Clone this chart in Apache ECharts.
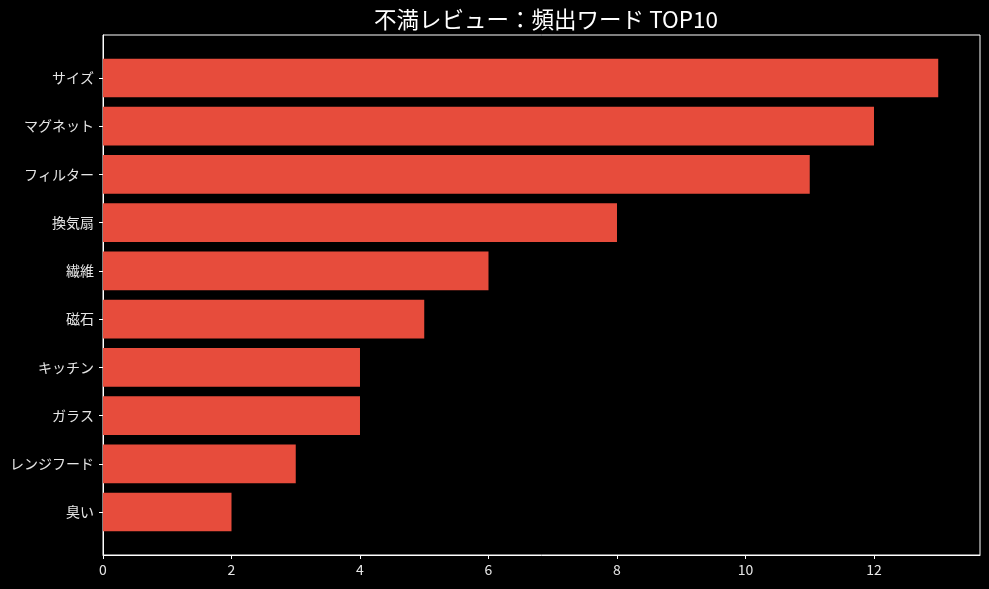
<!DOCTYPE html>
<html>
<head>
<meta charset="utf-8">
<script src="https://cdn.jsdelivr.net/npm/echarts@6/dist/echarts.min.js"></script>
<style>
  html, body { margin: 0; padding: 0; background: #000; }
  #chart { width: 989px; height: 589px; }
</style>
</head>
<body>
<div id="chart"></div>
<script>
var words = ['サイズ', 'マグネット', 'フィルター', '換気扇', '繊維', '磁石', 'キッチン', 'ガラス', 'レンジフード', '臭い'];
var counts = [13, 12, 11, 8, 6, 5, 4, 4, 3, 2];
var xTicks = [0, 2, 4, 6, 8, 10, 12];
var yTicks = [0, 1, 2, 3, 4, 5, 6, 7, 8, 9];

var fontFamily = '"Noto Sans CJK JP", "Noto Sans", sans-serif';
var myChart = echarts.init(document.getElementById('chart'));

var barData = counts.map(function (v, i) { return [v, i]; });

var option = {
    backgroundColor: '#000000',
    animation: false,
    title: {
        text: '不満レビュー：頻出ワード TOP10',
        left: 541,
        top: 3,
        textAlign: 'center',
        textStyle: { color: '#ffffff', fontSize: 22.5, fontWeight: 'normal', fontFamily: fontFamily }
    },
    grid: {
        left: 103, top: 35, right: 9, bottom: 34,
        show: true, borderColor: '#ffffff', borderWidth: 1, backgroundColor: 'transparent'
    },
    xAxis: {
        type: 'value',
        min: 0,
        max: 13.65,
        axisLine: { show: true, onZero: false, lineStyle: { color: '#ffffff', width: 1 } },
        axisTick: { show: true, customValues: xTicks, length: 4, lineStyle: { color: '#ffffff' } },
        axisLabel: {
            customValues: xTicks, color: '#e6e6e6', fontSize: 14, margin: 8, fontFamily: fontFamily
        },
        splitLine: { show: false }
    },
    yAxis: {
        type: 'value',
        inverse: true,
        min: -0.89,
        max: 9.89,
        axisLine: { show: true, onZero: false, lineStyle: { color: '#ffffff', width: 1 } },
        axisTick: { show: true, customValues: yTicks, length: 4, lineStyle: { color: '#ffffff' } },
        axisLabel: {
            customValues: yTicks,
            color: '#e6e6e6', fontSize: 14, margin: 9, fontFamily: fontFamily,
            formatter: function (v) { return words[Math.round(v)]; }
        },
        splitLine: { show: false }
    },
    series: [{
        type: 'custom',
        data: barData,
        encode: { x: 0, y: 1 },
        renderItem: function (params, api) {
            var v = api.value(0), i = api.value(1);
            var p0 = api.coord([0, i - 0.4]);
            var p1 = api.coord([v, i + 0.4]);
            return {
                type: 'rect',
                shape: { x: p0[0], y: Math.min(p0[1], p1[1]), width: p1[0] - p0[0], height: Math.abs(p1[1] - p0[1]) },
                style: { fill: '#e74c3c' }
            };
        }
    }]
};
myChart.setOption(option);
</script>
</body>
</html>
